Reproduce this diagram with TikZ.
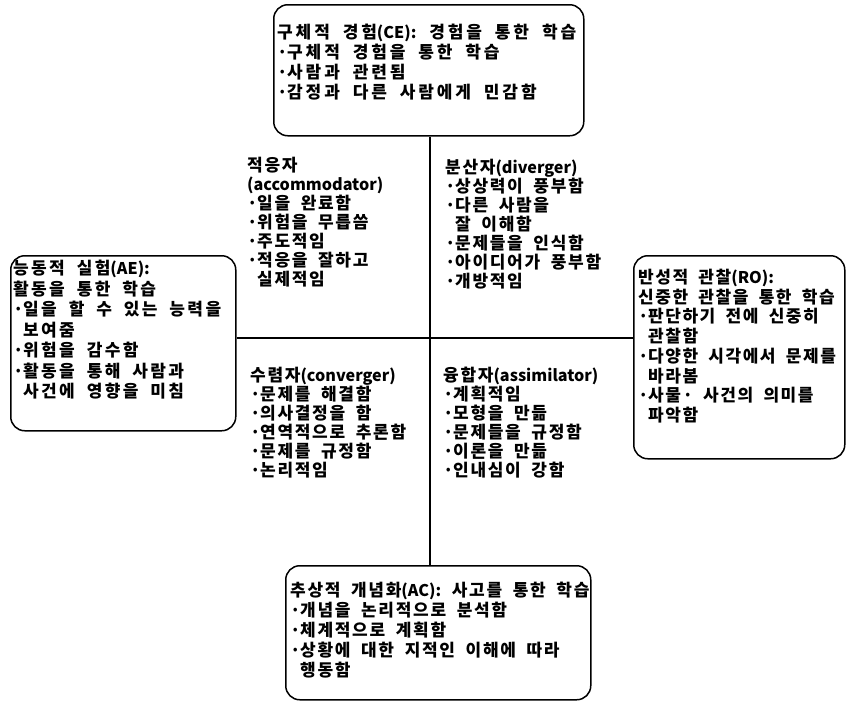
\documentclass[tikz,border=0pt]{standalone}
\usepackage{fontspec}
\newfontfamily\kfont{Noto Sans CJK KR}[LetterSpace=10,WordSpace=1.9]
\newfontfamily\latfont{Noto Sans CJK KR}[Scale=0.95]
\usetikzlibrary{positioning}

\newcommand{\itemdot}{\makebox[10pt][c]{·}}
\newcommand{\itemgap}{\hspace*{10pt}}
\newcommand{\lat}[1]{{\latfont\bfseries #1}}

\begin{document}
\begin{tikzpicture}[x=1pt,y=-1pt,
    every node/.style={font=\kfont\bfseries\fontsize{17}{20}\selectfont},
    modebox/.style={draw,line width=1.5pt,rounded corners=14pt,inner sep=0pt,anchor=north west},
    modetext/.style={align=left,inner sep=0pt},
    styletext/.style={align=left,inner sep=0pt,anchor=north west,
        font=\kfont\bfseries\fontsize{17}{19}\selectfont}]
    \useasboundingbox (0,0) rectangle (846,702);
    \coordinate (ctr) at (430,338); % crossing of the two axes

    % the four learning modes
    \node[modebox,minimum width=310pt,minimum height=131pt] (ce) at (273,4) {};
    \node[modetext,below right=20pt and 4pt of ce.north west,
        font=\kfont\bfseries\fontsize{17}{20}\selectfont\addfontfeature{LetterSpace=17}] (cetext)
        {구체적 경험\lat{(CE):} 경험을 통한 학습\\
         \itemdot 구체적 경험을 통한 학습\\
         \itemdot 사람과 관련됨\\
         \itemdot 감정과 다른 사람에게 민감함};
    \node[modebox,minimum width=225pt,minimum height=175pt] (ae) at (10,255) {};
    \node[modetext,below right=5pt and 3pt of ae.north west,
        font=\kfont\bfseries\fontsize{17}{20.5}\selectfont\addfontfeature{LetterSpace=14}] (aetext)
        {능동적 실험\lat{(AE):}\\
         활동을 통한 학습\\
         \itemdot 일을 할 수 있는 능력을\\
         \itemgap 보여줌\\
         \itemdot 위험을 감수함\\
         \itemdot 활동을 통해 사람과\\
         \itemgap 사건에 영향을 미침};
    \node[modebox,minimum width=211pt,minimum height=203pt] (ro) at (633,255) {};
    \node[modetext,below right=14pt and 5pt of ro.north west,
        font=\kfont\bfseries\fontsize{17}{19.7}\selectfont\addfontfeature{LetterSpace=9}] (rotext)
        {반성적 관찰\lat{(RO):}\\
         신중한 관찰을 통한 학습\\
         \itemdot 판단하기 전에 신중히\\
         \itemgap 관찰함\\
         \itemdot 다양한 시각에서 문제를\\
         \itemgap 바라봄\\
         \itemdot 사물· 사건의 의미를\\
         \itemgap 파악함};
    \node[modebox,minimum width=305pt,minimum height=134pt] (ac) at (285,565) {};
    \node[modetext,below right=17pt and 5pt of ac.north west] (actext)
        {추상적 개념화\lat{(AC):} 사고를 통한 학습\\
         \itemdot 개념을 논리적으로 분석함\\
         \itemdot 체계적으로 계획함\\
         \itemdot 상황에 대한 지적인 이해에 따라\\
         \itemgap 행동함};

    % axes
    \draw[line width=1.5pt] (ce.south -| ctr) -- (ac.north -| ctr);
    \draw[line width=1.5pt] (ae.east |- ctr) -- (ro.west |- ctr);

    % the four learning styles
    \node[styletext] (acc) at (247,157) {적응자\\
         \lat{(accommodator)}\\
         \itemdot 일을 완료함\\
         \itemdot 위험을 무릅씀\\
         \itemdot 주도적임\\
         \itemdot 적응을 잘하고\\
         \itemgap 실제적임};
    \node[styletext] (div) at (445,159) {분산자\lat{(diverger)}\\
         \itemdot 상상력이 풍부함\\
         \itemdot 다른 사람을\\
         \itemgap 잘 이해함\\
         \itemdot 문제들을 인식함\\
         \itemdot 아이디어가 풍부함\\
         \itemdot 개방적임};
    \node[styletext] (con) at (250,367) {수렴자\lat{(converger)}\\
         \itemdot 문제를 해결함\\
         \itemdot 의사결정을 함\\
         \itemdot 연역적으로 추론함\\
         \itemdot 문제를 규정함\\
         \itemdot 논리적임};
    \node[styletext] (ass) at (443,367) {융합자\lat{(assimilator)}\\
         \itemdot 계획적임\\
         \itemdot 모형을 만듦\\
         \itemdot 문제들을 규정함\\
         \itemdot 이론을 만듦\\
         \itemdot 인내심이 강함};
\end{tikzpicture}
\end{document}
